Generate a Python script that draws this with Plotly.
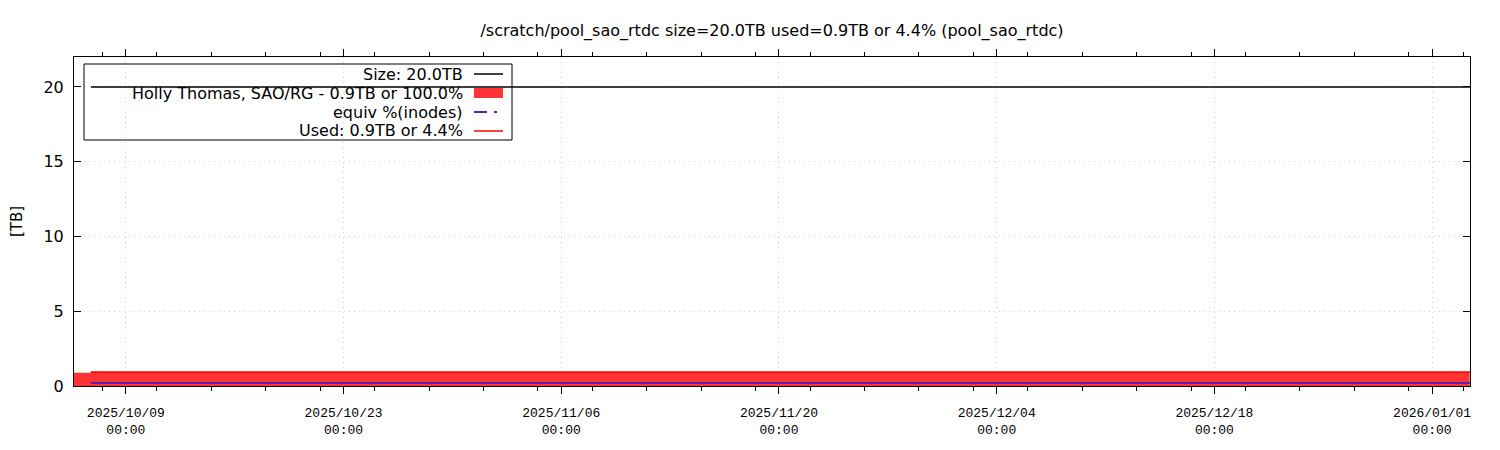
import plotly.graph_objects as go

# data
size_dates = ["2025-10-06 18:00", "2026-01-03 10:30"]
size_tb = [20.0, 20.0]

user_dates = ["2025-10-05 00:00", "2025-10-06 18:00", "2026-01-03 10:00"]
user_tb = [0.88, 0.94, 0.94]

inode_dates = ["2025-10-06 18:00", "2026-01-03 10:30"]
inode_tb = [0.2, 0.2]

used_dates = ["2025-10-06 18:00", "2026-01-03 10:30"]
used_tb = [0.93, 0.93]

title = "/scratch/pool_sao_rtdc size=20.0TB used=0.9TB or 4.4% (pool_sao_rtdc)"
legend_labels = ["Size: 20.0TB", "Holly Thomas, SAO/RG - 0.9TB or 100.0%",
                 "equiv %(inodes)", "Used: 0.9TB or 4.4%"]

RED = "#ff3333"
PURPLE = "#5b1fb8"
FONT = "DejaVu Sans"
GRID = "#cfcfcf"

fig = go.Figure()
fig.add_trace(go.Scatter(x=user_dates, y=user_tb, mode="lines", line_shape="hv",
                         line=dict(width=0, color=RED), fill="tozeroy",
                         fillcolor=RED, hoverinfo="skip"))
fig.add_trace(go.Scatter(x=inode_dates, y=inode_tb, mode="lines",
                         line=dict(color=PURPLE, width=2)))
fig.add_trace(go.Scatter(x=used_dates, y=used_tb, mode="lines",
                         line=dict(color="#ff0000", width=1.5)))
fig.add_trace(go.Scatter(x=size_dates, y=size_tb, mode="lines",
                         line=dict(color="black", width=1.5)))

# page body adds an 8px offset; plot area in figure coords
OX, OY = 8, 8
L, R, T, B = 74 - OX, 1470 - OX, 57 - OY, 386 - OY
W, H = R - L, B - T
def px(x):
    return (x - OX - L) / W
def py(y):
    return (B - (y - OY)) / H

shapes = [dict(type="rect", xref="paper", yref="paper",
               x0=px(84), x1=px(512), y0=py(140), y1=py(64),
               line=dict(color="black", width=1))]
annotations = []
rows = [74, 93, 112, 131]
for i, (lab, yy) in enumerate(zip(legend_labels, rows)):
    annotations.append(dict(xref="paper", yref="paper", x=px(465), y=py(yy),
                            text=lab, showarrow=False, xanchor="right",
                            yanchor="middle", font=dict(family=FONT, size=16, color="black")))
    if i == 1:
        shapes.append(dict(type="rect", xref="paper", yref="paper",
                           x0=px(474), x1=px(503), y0=py(yy + 5), y1=py(yy - 5),
                           fillcolor=RED, line=dict(width=0)))
    else:
        col = ["black", None, PURPLE, "#ff0000"][i]
        dash = "13px,7px,3px,20px" if i == 2 else "solid"
        shapes.append(dict(type="line", xref="paper", yref="paper",
                           x0=px(474), x1=px(503), y0=py(yy), y1=py(yy),
                           line=dict(color=col, width=2 if i == 2 else 1.5, dash=dash)))

fig.update_layout(
    width=1500, height=450,
    margin=dict(l=L, r=1500 - R, t=T, b=450 - B),
    plot_bgcolor="white", paper_bgcolor="white",
    showlegend=False,
    title=dict(text=title, x=(772 - OX) / 1500, xanchor="center",
               y=1 - 22 / 450, yanchor="middle",
               font=dict(family=FONT, size=16, color="black")),
    shapes=shapes, annotations=annotations,
    xaxis=dict(type="date", range=["2025-10-05 16:00", "2026-01-03 10:30"],
               automargin=False,
               tick0="2025-10-09", dtick=14 * 86400000,
               tickformat="%Y/%m/%d<br>%H:%M",
               ticks="outside", ticklen=7, tickcolor="black", mirror="ticks",
               ticklabelstandoff=7,
               showline=True, linecolor="black", linewidth=1,
               showgrid=True, gridcolor=GRID, griddash="1px,4px", gridwidth=1,
               zeroline=False,
               minor=dict(dtick=3.5 * 86400000, ticks="outside", ticklen=4,
                          tickcolor="black", showgrid=False),
               tickfont=dict(family="Liberation Mono", size=13, color="black")),
    yaxis=dict(range=[0, 22], tickvals=[0, 5, 10, 15, 20],
               automargin=False,
               ticks="inside", ticklen=7, tickcolor="black", mirror="ticks",
               ticklabelstandoff=6,
               showline=True, linecolor="black", linewidth=1,
               showgrid=True, gridcolor=GRID, griddash="1px,4px", gridwidth=1,
               zeroline=False,
               title=dict(text="[TB]", font=dict(family=FONT, size=15, color="black"),
                          standoff=20),
               tickfont=dict(family=FONT, size=16, color="black")),
)

fig.write_html("out.html")
